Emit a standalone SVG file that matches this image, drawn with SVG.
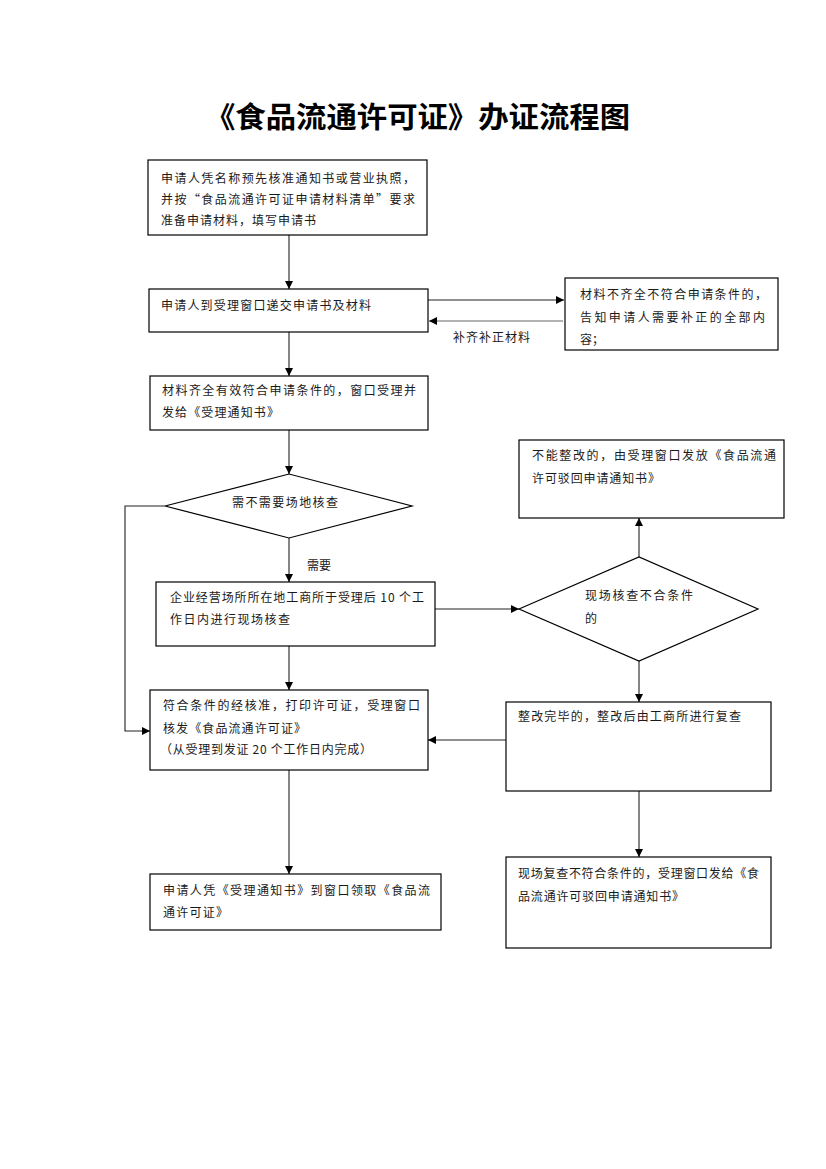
<svg xmlns="http://www.w3.org/2000/svg" width="826" height="1169" viewBox="0 0 826 1169">
<style>
.box{fill:#fff;stroke:#000;stroke-width:1.2}
.t{font-family:"Noto Sans CJK SC","Noto Sans",sans-serif;font-size:12px;fill:#1a1a1a}
.title{font-family:"Noto Sans CJK SC","Noto Sans",sans-serif;font-size:29px;font-weight:bold;fill:#000}
.c{fill:none;stroke:#222;stroke-width:1.1}
.g{fill:none;stroke:#666;stroke-width:1.1}
</style>
<defs>
<marker id="ah" viewBox="0 0 10 10" refX="10" refY="5" markerWidth="8" markerHeight="8" markerUnits="userSpaceOnUse" orient="auto">
<path d="M0,0 L10,5 L0,10 z" fill="#000"/>
</marker>
</defs>
<rect width="826" height="1169" fill="#fff"/>
<text class="title" x="205" y="128" textLength="425" lengthAdjust="spacingAndGlyphs">《食品流通许可证》办证流程图</text>

<g id="connectors">
<line class="c" x1="289" y1="235" x2="289" y2="289" marker-end="url(#ah)"/>
<line class="c" x1="428" y1="300" x2="564" y2="300" marker-end="url(#ah)"/>
<line class="g" x1="563" y1="321" x2="429" y2="321" marker-end="url(#ah)"/>
<line class="c" x1="289" y1="332" x2="289" y2="376" marker-end="url(#ah)"/>
<line class="c" x1="289" y1="430" x2="289" y2="474" marker-end="url(#ah)"/>
<polyline class="c" points="165,506 125,506 125,731 150,731" marker-end="url(#ah)"/>
<line class="c" x1="289" y1="538" x2="289" y2="582" marker-end="url(#ah)"/>
<line class="c" x1="435" y1="609" x2="519" y2="609" marker-end="url(#ah)"/>
<line class="c" x1="639" y1="557" x2="639" y2="518" marker-end="url(#ah)"/>
<line class="c" x1="639" y1="661" x2="639" y2="702" marker-end="url(#ah)"/>
<line class="c" x1="289" y1="646" x2="289" y2="690" marker-end="url(#ah)"/>
<line class="c" x1="506" y1="740" x2="428" y2="740" marker-end="url(#ah)"/>
<line class="c" x1="289" y1="770" x2="289" y2="874" marker-end="url(#ah)"/>
<line class="c" x1="639" y1="791" x2="639" y2="857" marker-end="url(#ah)"/>
<text class="t" x="453" y="342" textLength="77" lengthAdjust="spacing">补齐补正材料</text>
<text class="t" x="307" y="570" textLength="24" lengthAdjust="spacing">需要</text>
</g>

<g id="n1">
<rect class="box" x="148" y="160" width="279" height="75"/>
<text class="t" x="161" y="183" textLength="254" lengthAdjust="spacing">申请人凭名称预先核准通知书或营业执照，</text>
<text class="t" x="161" y="204" textLength="254" lengthAdjust="spacing">并按“食品流通许可证申请材料清单”要求</text>
<text class="t" x="161" y="225" textLength="155" lengthAdjust="spacing">准备申请材料，填写申请书</text>
</g>

<g id="n2">
<rect class="box" x="149" y="289" width="279" height="43"/>
<text class="t" x="161" y="310" textLength="210" lengthAdjust="spacing">申请人到受理窗口递交申请书及材料</text>
</g>

<g id="n3">
<rect class="box" x="565" y="278" width="213" height="72"/>
<text class="t" x="580" y="299" textLength="187" lengthAdjust="spacing">材料不齐全不符合申请条件的，</text>
<text class="t" x="580" y="322" textLength="185" lengthAdjust="spacing">告知申请人需要补正的全部内</text>
<text class="t" x="580" y="344">容；</text>
</g>

<g id="n4">
<rect class="box" x="150" y="376" width="278" height="54"/>
<text class="t" x="162" y="395" textLength="254" lengthAdjust="spacing">材料齐全有效符合申请条件的，窗口受理并</text>
<text class="t" x="162" y="417" textLength="117" lengthAdjust="spacing">发给《受理通知书》</text>
</g>

<g id="d1">
<polygon class="box" points="165,506 289,474 412,506 289,538"/>
<text class="t" x="232" y="507" textLength="106" lengthAdjust="spacing">需不需要场地核查</text>
</g>

<g id="n5">
<rect class="box" x="156" y="582" width="279" height="64"/>
<text class="t" x="170" y="602" textLength="254" lengthAdjust="spacing">企业经营场所所在地工商所于受理后 10 个工</text>
<text class="t" x="170" y="624" textLength="120" lengthAdjust="spacing">作日内进行现场核查</text>
</g>

<g id="d2">
<polygon class="box" points="519,609 639,557 758,609 639,661"/>
<text class="t" x="585" y="600" textLength="108" lengthAdjust="spacing">现场核查不合条件</text>
<text class="t" x="585" y="623">的</text>
</g>

<g id="n6">
<rect class="box" x="519" y="440" width="265" height="78"/>
<text class="t" x="532" y="460" textLength="244" lengthAdjust="spacing">不能整改的，由受理窗口发放《食品流通</text>
<text class="t" x="532" y="483" textLength="128" lengthAdjust="spacing">许可驳回申请通知书》</text>
</g>

<g id="n7">
<rect class="box" x="506" y="702" width="265" height="89"/>
<text class="t" x="518" y="721" textLength="223" lengthAdjust="spacing">整改完毕的，整改后由工商所进行复查</text>
</g>

<g id="n8">
<rect class="box" x="150" y="690" width="278" height="80"/>
<text class="t" x="163" y="710" textLength="257" lengthAdjust="spacing">符合条件的经核准，打印许可证，受理窗口</text>
<text class="t" x="163" y="733" textLength="143" lengthAdjust="spacing">核发《食品流通许可证》</text>
<text class="t" x="160" y="754" textLength="212" lengthAdjust="spacing">（从受理到发证 20 个工作日内完成）</text>
</g>

<g id="n9">
<rect class="box" x="150" y="874" width="291" height="56"/>
<text class="t" x="163" y="895" textLength="267" lengthAdjust="spacing">申请人凭《受理通知书》到窗口领取《食品流</text>
<text class="t" x="163" y="917" textLength="65" lengthAdjust="spacing">通许可证》</text>
</g>

<g id="n10">
<rect class="box" x="506" y="857" width="265" height="91"/>
<text class="t" x="518" y="878" textLength="241" lengthAdjust="spacing">现场复查不符合条件的，受理窗口发给《食</text>
<text class="t" x="518" y="901" textLength="166" lengthAdjust="spacing">品流通许可驳回申请通知书》</text>
</g>
</svg>
